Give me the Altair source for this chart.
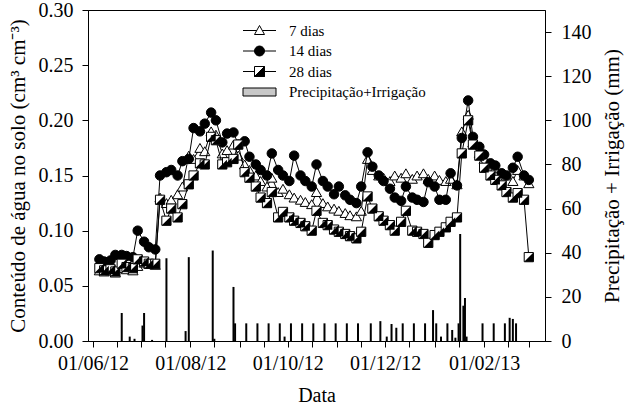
import altair as alt
import pandas as pd

# ---------------- data ----------------
datas = [
    "2012-06-05", "2012-06-08", "2012-06-12", "2012-06-15", "2012-06-19", "2012-06-22",
    "2012-06-26", "2012-06-29", "2012-07-03", "2012-07-06", "2012-07-10", "2012-07-13",
    "2012-07-17", "2012-07-20", "2012-07-24", "2012-07-27", "2012-07-31", "2012-08-03",
    "2012-08-07", "2012-08-10", "2012-08-14", "2012-08-17", "2012-08-21", "2012-08-24",
    "2012-08-28", "2012-08-31", "2012-09-04", "2012-09-07", "2012-09-11", "2012-09-14",
    "2012-09-18", "2012-09-21", "2012-09-25", "2012-09-28", "2012-10-02", "2012-10-05",
    "2012-10-09", "2012-10-12", "2012-10-16", "2012-10-19", "2012-10-23", "2012-10-26",
    "2012-10-30", "2012-11-02", "2012-11-06", "2012-11-09", "2012-11-13", "2012-11-16",
    "2012-11-20", "2012-11-23", "2012-11-27", "2012-11-30", "2012-12-04", "2012-12-07",
    "2012-12-11", "2012-12-14", "2012-12-18", "2012-12-21", "2012-12-25", "2012-12-28",
    "2013-01-01", "2013-01-04", "2013-01-08", "2013-01-11", "2013-01-15", "2013-01-18",
    "2013-01-22", "2013-01-25", "2013-01-29", "2013-02-01", "2013-02-05", "2013-02-08",
    "2013-02-12", "2013-02-15", "2013-02-19", "2013-02-22", "2013-02-26", "2013-03-01",
]

agua_7 = [
    0.064, 0.063, 0.064, 0.062, 0.066, 0.065, 0.064, 0.068, 0.071, 0.070, 0.069,
    0.130, 0.125, 0.128, 0.133, 0.140, 0.168, 0.165, 0.175, 0.172, 0.190, 0.187, 0.170, 0.173, 0.178, 0.168,
    0.160, 0.155, 0.150, 0.145, 0.140, 0.148, 0.135, 0.138, 0.133, 0.130, 0.128, 0.126, 0.124, 0.135,
    0.125, 0.122, 0.120, 0.118, 0.116, 0.114, 0.113, 0.118,
    0.165, 0.155, 0.150, 0.148, 0.145, 0.150, 0.148, 0.152, 0.147, 0.150, 0.152, 0.147, 0.150, 0.146,
    0.145, 0.147, 0.142,
    0.190, 0.205, 0.180, 0.170, 0.165, 0.160, 0.157, 0.152, 0.150, 0.145, 0.155, 0.150, 0.143,
]

agua_14 = [
    0.074, 0.072, 0.073, 0.078, 0.078, 0.077, 0.076, 0.100, 0.090, 0.085, 0.083,
    0.150, 0.153, 0.155, 0.150, 0.163, 0.165, 0.193, 0.190, 0.197, 0.207, 0.200, 0.180, 0.188, 0.189, 0.178,
    0.181, 0.167, 0.160, 0.155, 0.150, 0.170, 0.155, 0.150, 0.145, 0.168, 0.150, 0.145, 0.140, 0.160,
    0.145, 0.140, 0.133, 0.140, 0.132, 0.128, 0.125, 0.140,
    0.171, 0.158, 0.150, 0.145, 0.138, 0.130, 0.127, 0.140, 0.130, 0.128, 0.126, 0.144, 0.140, 0.128,
    0.128, 0.152, 0.141,
    0.184, 0.218, 0.185, 0.176, 0.169, 0.161, 0.159, 0.152, 0.150, 0.157, 0.167, 0.150, 0.146,
]

agua_28 = [
    0.066, 0.064, 0.065, 0.063, 0.070, 0.067, 0.066, 0.074, 0.072, 0.070, 0.070,
    0.128, 0.109, 0.120, 0.112, 0.124, 0.142, 0.150, 0.161, 0.160, 0.185, 0.182, 0.160, 0.162, 0.165, 0.178,
    0.153, 0.148, 0.140, 0.130, 0.125, 0.135, 0.112, 0.117, 0.112, 0.109, 0.107, 0.104, 0.100, 0.118,
    0.107, 0.105, 0.101, 0.099, 0.097, 0.095, 0.093, 0.099,
    0.131, 0.120, 0.113, 0.109, 0.105, 0.100, 0.108, 0.118, 0.100, 0.099, 0.097, 0.089, 0.096, 0.099,
    0.103, 0.108, 0.112,
    0.170, 0.200, 0.178, 0.168, 0.157, 0.150, 0.146, 0.141, 0.135, 0.130, 0.134, 0.128, 0.076,
]

chuva_datas = [
    "2012-06-19", "2012-06-24", "2012-06-27", "2012-07-02", "2012-07-03", "2012-07-08",
    "2012-07-17", "2012-07-29", "2012-07-31", "2012-08-15", "2012-08-16", "2012-08-28",
    "2012-08-29", "2012-09-05", "2012-09-12", "2012-09-19", "2012-09-26", "2012-09-29",
    "2012-10-03", "2012-10-10", "2012-10-17", "2012-10-24", "2012-10-31", "2012-11-07",
    "2012-11-14", "2012-11-22", "2012-11-28", "2012-12-02", "2012-12-05", "2012-12-08",
    "2012-12-12", "2012-12-19", "2012-12-26", "2012-12-31", "2013-01-02", "2013-01-05",
    "2013-01-09", "2013-01-12", "2013-01-14", "2013-01-16", "2013-01-17", "2013-01-19",
    "2013-01-20", "2013-01-21", "2013-01-31", "2013-02-07", "2013-02-14", "2013-02-17",
    "2013-02-19", "2013-02-21",
]
chuva_mm = [
    12.7, 2, 1, 7, 12.7, 0.5,
    37.5, 4.5, 38, 41, 1, 24.5,
    8, 8, 8, 8, 8, 2,
    8, 8, 8, 8, 8, 8,
    8, 8, 9, 2, 7.7, 6,
    8, 8, 8, 14, 8, 2,
    8, 5, 1.5, 8, 48.5, 16,
    19.5, 2, 8, 8, 8, 10.5,
    10, 8,
]

series = ["7 dias", "14 dias", "28 dias"]
legenda_itens = ["7 dias", "14 dias", "28 dias", "Precipitação+Irrigação"]

df = pd.DataFrame({
    "data": pd.to_datetime(datas * 3),
    "valor": agua_7 + agua_14 + agua_28,
    "serie": [s for s in series for _ in datas],
})
df_chuva = pd.DataFrame({"data": pd.to_datetime(chuva_datas), "mm": chuva_mm})

# ---------------- styling ----------------
FONT = "Liberation Serif"

meses = [(2012, m) for m in range(6, 13)] + [(2013, m) for m in range(1, 4)]
x_vals = []
for (yy, mm) in meses:
    for dd in (1, 16):
        if (yy, mm) == (2013, 3) and dd == 16:
            continue
        x_vals.append(alt.DateTime(year=yy, month=mm, date=dd))

x_enc = alt.X(
    "data:T",
    scale=alt.Scale(domain=[alt.DateTime(year=2012, month=6, date=1),
                            alt.DateTime(year=2013, month=3, date=8)]),
    axis=alt.Axis(
        values=x_vals,
        labelExpr="date(datum.value) == 1 && month(datum.value) % 2 == 1 ? timeFormat(datum.value, '%d/%m/%y') : ''",
        title="Data", labelFlush=False, labelOverlap=False, tickSize=6,
        labelPadding=6, titlePadding=12, titleFontSize=20, grid=False,
    ),
)

y_enc = alt.Y(
    "valor:Q",
    scale=alt.Scale(domain=[0, 0.30]),
    axis=alt.Axis(
        orient="left", values=[0, 0.05, 0.10, 0.15, 0.20, 0.25, 0.30], format=".2f",
        title="Conteúdo de água no solo (cm³ cm⁻³)", labelFlush=False, tickSize=6,
        labelPadding=9, titlePadding=10, grid=False,
    ),
)

y_chuva = alt.Y(
    "mm:Q",
    scale=alt.Scale(domain=[0, 150]),
    axis=alt.Axis(
        orient="right", values=[0, 20, 40, 60, 80, 100, 120, 140],
        title="Precipitação + Irrigação (mm)", labelFlush=False, tickSize=6,
        labelPadding=10, titlePadding=10, titleAngle=270, titleBaseline="top", grid=False,
    ),
)

base = alt.Chart(df)


def sel(nome):
    return base.transform_filter(alt.datum.serie == nome)


line_kw = dict(color="black", strokeWidth=1)

l7 = sel("7 dias").mark_line(**line_kw).encode(x=x_enc, y=y_enc)
p7 = sel("7 dias").mark_point(shape="triangle-up", filled=True, fill="white", stroke="black",
                              strokeWidth=1, size=105, opacity=1).encode(x=x_enc, y=y_enc)
l14 = sel("14 dias").mark_line(**line_kw).encode(x=x_enc, y=y_enc)
p14 = sel("14 dias").mark_point(shape="circle", filled=True, fill="black", stroke="black",
                                strokeWidth=1, size=90, opacity=1).encode(x=x_enc, y=y_enc)
l28 = sel("28 dias").mark_line(**line_kw).encode(x=x_enc, y=y_enc)
p28a = sel("28 dias").mark_point(shape="square", filled=True, fill="white", stroke="black",
                                 strokeWidth=1, size=85, opacity=1).encode(x=x_enc, y=y_enc)
p28b = sel("28 dias").mark_point(shape="M 1 -1 L 1 1 L -1 1 Z", filled=True, fill="black",
                                 strokeWidth=0, size=85, opacity=1).encode(x=x_enc, y=y_enc)

# legend (symbols include the line stub)
sym7 = "M -3.3 0 L -0.556 0 M 0.556 0 L 3.3 0 M 0 -1 L 1 0.8 L -1 0.8 Z"
sym14 = "M -3.3 0 L -1 0 M 1 0 L 3.3 0 M -1 0 A 1 1 0 1 0 1 0 A 1 1 0 1 0 -1 0 Z"
sym28 = ("M -3.3 0 L -1 0 M 1 0 L 3.3 0 M -1 -1 L 1 -1 M 1 -1 L 1 1 M 1 1 L -1 1 "
         "M -1 1 L -1 -1 M 1 -1 L 1 1 L -1 1 Z")
symbar = "M -3.3 -0.8 L 3.3 -0.8 L 3.3 0.8 L -3.3 0.8 Z"

leg = alt.Legend(title=None, orient="none", legendX=164, legendY=13, symbolSize=100,
                 labelOffset=22, rowPadding=4.5, padding=0, labelFont=FONT,
                 labelFontSize=15, labelColor="black", symbolStrokeWidth=1)

legend_layer = base.transform_filter("datum.valor < 0").mark_point(
    filled=True, size=100, opacity=1, strokeWidth=1
).encode(
    x=x_enc, y=y_enc,
    shape=alt.Shape("serie:N", scale=alt.Scale(domain=legenda_itens,
                                              range=[sym7, sym14, sym28, symbar]), legend=leg),
    fill=alt.Fill("serie:N", scale=alt.Scale(domain=legenda_itens,
                                            range=["white", "black", "black", "#c8c8c8"]), legend=leg),
    stroke=alt.Stroke("serie:N", scale=alt.Scale(domain=legenda_itens,
                                                range=["black", "black", "black", "black"]), legend=leg),
)

agua = alt.layer(l7, p7, l14, p14, l28, p28a, p28b, legend_layer)

barras = alt.Chart(df_chuva).mark_bar(size=2, color="black").encode(x=x_enc, y=y_chuva)

chart = alt.layer(barras, agua).resolve_scale(y="independent").properties(
    width=457, height=331,
    autosize=alt.AutoSizeParams(type="none"),
    padding={"left": 88, "top": 10, "right": 82, "bottom": 77},
    background="white",
).configure_view(
    stroke="black", strokeWidth=1
).configure_axis(
    labelFont=FONT, titleFont=FONT, labelFontSize=20, titleFontSize=21,
    titleFontWeight="normal", labelColor="black", titleColor="black",
    domainColor="black", tickColor="black", domainWidth=1, tickWidth=1,
).configure_legend(
    labelFont=FONT, labelFontSize=15, labelColor="black",
)

chart.save("out.html", embed_options={"renderer": "svg", "actions": False})
